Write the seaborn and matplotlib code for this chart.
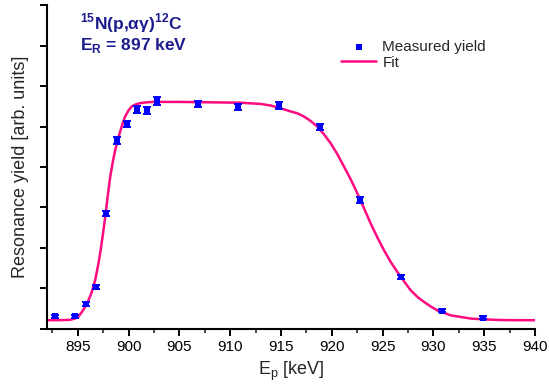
import matplotlib
matplotlib.use('Agg')
import matplotlib.pyplot as plt
import seaborn as sns
import pandas as pd
from matplotlib.ticker import MultipleLocator

# Messpunkte
e_mess = [892.8, 894.7, 895.8, 896.8, 897.8, 898.85, 899.8, 900.8, 901.8, 902.8,
          906.8, 910.8, 914.8, 918.8, 922.8, 926.85, 930.85, 934.85]
y_mess = [0.31, 0.31, 0.60, 1.04, 2.85, 4.65, 5.06, 5.42, 5.40, 5.63,
          5.56, 5.48, 5.52, 4.99, 3.18, 1.29, 0.45, 0.27]
y_fehler = [0.04, 0.04, 0.05, 0.05, 0.07, 0.08, 0.08, 0.09, 0.08, 0.09,
            0.08, 0.08, 0.08, 0.08, 0.07, 0.05, 0.04, 0.04]

# Fit-Kurve
e_fit = [892.0, 893.0, 893.8, 894.24, 894.73, 895.06, 895.39, 895.72, 896.05, 896.38,
         896.71, 897.03, 897.27, 897.53, 897.76, 897.96, 898.19, 898.45, 898.68, 898.94,
         899.17, 899.43, 899.66, 899.99, 900.32, 900.72, 901.14, 901.8, 902.46, 905.0,
         908.0, 911.0, 913.0, 914.0, 915.0, 915.94, 916.59, 917.25, 917.91, 918.57,
         919.22, 919.88, 920.54, 921.2, 921.85, 922.51, 923.17, 923.83, 924.48, 925.14,
         925.8, 926.46, 927.11, 927.77, 928.43, 929.09, 929.74, 930.4, 931.06, 931.72,
         932.7, 933.69, 935.0, 936.5, 938.0, 940.0]
y_fit = [0.21, 0.21, 0.215, 0.22, 0.25, 0.30, 0.41, 0.54, 0.70, 0.91,
         1.20, 1.61, 1.98, 2.44, 2.89, 3.31, 3.76, 4.13, 4.42, 4.67,
         4.88, 5.09, 5.25, 5.40, 5.50, 5.55, 5.58, 5.60, 5.61, 5.61,
         5.60, 5.59, 5.56, 5.52, 5.45, 5.375, 5.33, 5.25, 5.14, 5.00,
         4.81, 4.59, 4.32, 4.01, 3.70, 3.35, 2.98, 2.60, 2.26, 1.94,
         1.65, 1.40, 1.17, 0.95, 0.785, 0.66, 0.55, 0.45, 0.39, 0.33,
         0.29, 0.25, 0.23, 0.215, 0.21, 0.21]

df_mess = pd.DataFrame({'Ep': e_mess, 'yield': y_mess, 'err': y_fehler})
df_fit = pd.DataFrame({'Ep': e_fit, 'yield': y_fit})

sns.set_style('ticks')
plt.rcParams['font.family'] = ['Liberation Sans', 'DejaVu Sans']
plt.rcParams['mathtext.fontset'] = 'custom'
plt.rcParams['mathtext.rm'] = 'Liberation Sans'
plt.rcParams['mathtext.bf'] = 'Liberation Sans:bold'

fig = plt.figure(figsize=(5.49, 3.92), dpi=100)
ax = fig.add_axes([0.0862, 0.1615, 0.8883, 0.825])

sns.lineplot(x='Ep', y='yield', data=df_fit, ax=ax, color='#FF0A80', lw=1.8,
             sort=False, label='Fit', zorder=2)
ax.errorbar(df_mess['Ep'], df_mess['yield'], yerr=df_mess['err'], fmt='none',
            ecolor='#0000FF', elinewidth=1.4, capsize=2.8, capthick=1.4, zorder=3)
sns.scatterplot(x='Ep', y='yield', data=df_mess, ax=ax, marker='s', s=14,
                color='#0000FF', edgecolor='#0000FF', linewidth=0,
                label='Measured yield', zorder=4)

ax.set_xlim(892, 940)
ax.set_ylim(0, 8)
ax.xaxis.set_major_locator(MultipleLocator(5))
ax.xaxis.set_minor_locator(MultipleLocator(2.5))
ax.yaxis.set_major_locator(MultipleLocator(1))
ax.tick_params(axis='both', which='major', direction='out', length=5, width=1.4,
               labelsize=11, color='black', labelcolor='black')
ax.tick_params(axis='x', which='minor', direction='out', length=3, width=1.2)
ax.tick_params(axis='y', labelleft=False)
for s in ['left', 'bottom']:
    ax.spines[s].set_linewidth(1.5)
    ax.spines[s].set_color('black')
sns.despine(ax=ax)

ax.set_xlabel('E$_{\\mathrm{p}}$ [keV]', fontsize=13, labelpad=4)
ax.set_ylabel('Resonance yield [arb. units]', fontsize=13, labelpad=8)

ax.text(0.068, 0.926, '$^{\\mathbf{15}}$N(p,αγ)$^{\\mathbf{12}}$C', transform=ax.transAxes,
        fontsize=12.5, fontweight='bold', color='#1C1C8E', va='baseline', ha='left')
ax.text(0.068, 0.861, 'E$_{\\mathbf{R}}$ = 897 keV', transform=ax.transAxes,
        fontsize=12.5, fontweight='bold', color='#1C1C8E', va='baseline', ha='left')

handles, labels = ax.get_legend_handles_labels()
order = [labels.index('Measured yield'), labels.index('Fit')]
ax.legend([handles[i] for i in order], [labels[i] for i in order],
          loc='upper left', bbox_to_anchor=(0.59, 0.913), frameon=False,
          fontsize=11, handlelength=2.3, handletextpad=0.4, labelspacing=0.15,
          borderaxespad=0)

fig.savefig('out.png', dpi=100)
